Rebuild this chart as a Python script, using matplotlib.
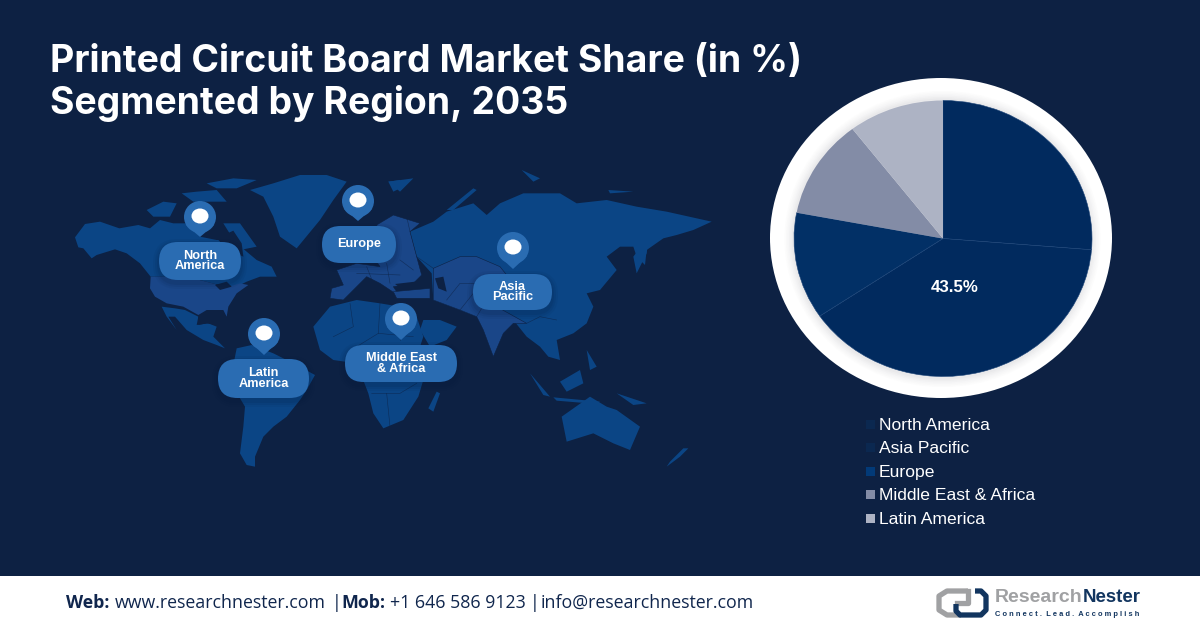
import matplotlib
matplotlib.use('Agg')
import matplotlib.pyplot as plt
from matplotlib.patches import Polygon, Ellipse, FancyBboxPatch, Rectangle, Circle

# chart data
regions = ['North America', 'Asia Pacific', 'Europe', 'Middle East & Africa', 'Latin America']
shares = [26.3, 39.2, 12.5, 11.6, 10.4]
slice_colors = ['#012a5e', '#012a5e', '#023066', '#838ca6', '#adb3c4']
swatch_colors = ['#0b2850', '#0b2850', '#023a78', '#838ca6', '#adb3c4']
callout = '43.5%'
title_lines = ['Printed Circuit Board Market Share (in %)', 'Segmented by Region, 2035']
footer_bits = [('Web:', True, 66), ('www.researchnester.com', False, 115), ('|', False, 332),
               ('Mob:', True, 341), ('+1 646 586 9123', False, 390), ('|', False, 530),
               ('info@researchnester.com', False, 541)]

BG = '#0d2143'
LAND = '#0b4585'
LAND2 = '#1a4688'
PIN = '#2a6cb2'

# pill and pin layout: label, pill x0, x1, y0, y1, pin x, pin y, pin tip y
callouts = [('North\nAmerica', 159, 241, 242, 280, 200, 217, 237),
            ('Europe', 322, 396, 226, 263, 358, 201, 221),
            ('Latin\nAmerica', 218, 309, 359, 398, 264, 334, 355),
            ('Middle East\n& Africa', 345, 457, 345, 382, 401, 319, 340),
            ('Asia\nPacific', 473, 552, 274, 310, 513, 248, 269)]

west_land = [
    [(45,232),(75,192),(120,185),(178,205),(235,195),(270,205),(300,180),(340,190),(380,190),(420,230),(470,240),(500,240),(530,250),(560,275),(590,300),(635,320),(650,350),(600,350),(560,365),(530,380),(465,372),(380,350),(272,350),(240,310),(200,280),(165,268),(110,285),(95,295),(70,265),(55,262)],
    [(305,440),(345,445),(375,450),(415,470),(410,495),(445,490),(470,500),(460,530),(495,565),(470,555),(430,540),(380,510),(345,470),(325,470),(350,510),(320,470)],
    [(530,565),(575,555),(640,580),(700,610),(765,645),(740,690),(720,720),(680,770),(640,800),(610,830),(585,890),(585,920),(560,915),(540,880),(550,800),(555,740),(525,690),(515,640)],
    [(570,90),(640,70),(720,45),(800,45),(860,65),(820,120),(780,180),(710,265),(660,230),(640,170),(610,110)],
    [(440,70),(520,55),(590,60),(530,85),(470,85)],
    [(260,150),(310,125),(350,130),(330,170),(280,170)],
    [(365,100),(410,95),(470,90),(500,125),(450,125),(400,125)],
    [(490,190),(540,190),(590,260),(540,270)],
    [(985,65),(1020,60),(1020,85),(1000,95)],
]
west_usa = [[(272,350),(380,350),(465,372),(490,385),(540,370),(565,375),(530,400),(505,440),(500,470),(490,450),(440,450),(415,465),(370,440),(320,430),(285,410),(270,385)]]
west_dark = [[(470,235),(520,212),(545,250),(550,290),(505,270)],
             [(465,375),(500,365),(515,380),(480,390)],
             [(415,470),(445,452),(490,455),(500,475),(470,495),(440,490),(415,495)]]
east_land = [
    [(330,215),(400,185),(440,155),(520,130),(560,165),(600,130),(670,100),(780,100),(830,130),(920,120),(1010,140),(1100,155),(1235,185),(1180,210),(1130,225),(1090,235),(1040,270),(1035,315),(1010,290),(1000,260),(960,260),(920,290),(950,330),(900,390),(860,400),(880,440),(860,490),(820,520),(770,540),(780,600),(745,590),(720,560),(680,530),(640,480),(600,470),(530,470),(480,450),(400,420),(395,340),(350,290)],
    [(40,500),(90,440),(170,420),(240,430),(300,440),(350,470),(370,530),(360,560),(420,600),(370,660),(355,710),(310,780),(250,805),(220,760),(205,700),(170,610),(100,600),(60,570)],
    [(370,480),(420,480),(470,500),(440,540),(390,560),(360,510)],
    [(410,695),(420,700),(400,755),(385,745)],
    [(785,770),(870,710),(920,740),(950,750),(1020,800),(990,870),(940,850),(880,820),(800,845)],
    [(1165,865),(1140,890),(1100,920),(1110,905),(1150,865)],
    [(1000,290),(1030,250),(1045,240),(1040,280),(1010,340)],
    [(690,640),(750,710),(730,705)],
    [(760,712),(900,725),(890,732),(770,722)],
    [(780,665),(840,630),(850,670),(800,695)],
    [(950,700),(1040,730),(1000,735)],
    [(860,570),(890,620),(870,630)],
    [(440,150),(520,85),(530,90),(460,150)],
    [(265,65),(340,55),(300,95)],
    [(665,30),(720,55),(700,65)],
    [(925,90),(1000,95),(930,100)],
]
east_lighter = [
    [(110,330),(170,310),(240,320),(220,290),(250,240),(230,195),(280,165),(360,190),(330,215),(350,290),(365,345),(340,370),(280,380),(300,410),(240,370),(200,350),(170,380),(130,420),(90,415),(95,385),(130,375)],
    [(280,395),(390,385),(390,415),(290,415)],
    [(400,325),(480,290),(530,290),(600,320),(640,370),(590,440),(680,490),(640,490),(610,520),(580,590),(550,510),(530,470),(480,450),(400,420)],
]
east_dark = [[(405,355),(430,350),(440,395),(415,385)],
             [(285,372),(345,365),(375,380),(310,390)]]
east_borders = [
    [(150,430),(160,500),(100,530)], [(240,430),(235,520),(170,560)], [(300,440),(300,540)],
    [(235,520),(340,530)], [(215,700),(300,700),(350,670)], [(260,700),(270,800)],
    [(200,320),(220,370)], [(260,310),(270,370)], [(300,300),(340,330)], [(170,340),(300,345)],
    [(440,420),(480,370),(560,370)], [(480,450),(520,400)], [(530,470),(560,420)],
    [(330,215),(320,170)], [(350,290),(400,325)], [(680,490),(720,470),(770,480)],
]


def west(pts):
    return [(60 + x / 3, 160 + y / 3) for x, y in pts]


def east(pts):
    return [(300 + x / 3, 160 + y / 3) for x, y in pts]


fig = plt.figure(figsize=(12, 6.28), dpi=100, facecolor=BG)
ax = fig.add_axes([0, 0, 1, 1])
ax.set_xlim(0, 1200)
ax.set_ylim(628, 0)
ax.axis('off')

# map
for p in west_land:
    ax.add_patch(Polygon(west(p), closed=True, fc=LAND, ec='none', zorder=1))
for p in west_usa:
    ax.add_patch(Polygon(west(p), closed=True, fc=LAND2, ec='none', zorder=2))
for p in west_dark:
    ax.add_patch(Polygon(west(p), closed=True, fc=BG, ec='none', zorder=3))
for p in east_land:
    ax.add_patch(Polygon(east(p), closed=True, fc=LAND, ec='none', zorder=1))
for p in east_lighter:
    ax.add_patch(Polygon(east(p), closed=True, fc=LAND2, ec=BG, lw=0.4, zorder=2))
for p in east_dark:
    ax.add_patch(Polygon(east(p), closed=True, fc=BG, ec='none', zorder=3))
for p in east_borders:
    xs, ys = zip(*east(p))
    ax.plot(xs, ys, color=BG, lw=0.4, alpha=0.7, zorder=3)

# pins and pills
for label, x0, x1, y0, y1, px, py, tip in callouts:
    r = (y1 - y0) / 2
    for grow, alpha in [(6, 0.06), (4, 0.08), (2, 0.1)]:
        ax.add_patch(FancyBboxPatch((x0 - grow, y0 + 3 - grow), x1 - x0 + 2 * grow, y1 - y0 + 2 * grow,
                                    boxstyle='round,pad=0,rounding_size=%f' % (r + grow),
                                    fc='#081a38', ec='none', alpha=alpha, zorder=4))
    ax.add_patch(FancyBboxPatch((x0, y0), x1 - x0, y1 - y0, boxstyle='round,pad=0,rounding_size=%f' % r,
                                fc=PIN, ec='none', zorder=5))
    ax.add_patch(Circle((px, py), 16, fc=PIN, ec='none', zorder=5))
    ax.add_patch(Polygon([(px - 14, py + 8), (px + 14, py + 8), (px, tip)], closed=True, fc=PIN, ec='none', zorder=5))
    ax.add_patch(Ellipse((px, py - 1), 17, 15, fc='white', ec='none', zorder=6))
    ax.text((x0 + x1) / 2, (y0 + y1) / 2, label, color='white', fontsize=9.2, family='Liberation Sans',
            fontweight='bold', ha='center', va='center', linespacing=0.85, zorder=7)

# title
for line, y in zip(title_lines, [62, 104]):
    ax.text(50, y, line, color='white', fontsize=26.9, family='Inter', fontweight='bold', ha='left', va='center')

# pie ring with a soft inner shadow
ax.add_patch(Ellipse((941, 238), 342, 320, fc='white', ec='none', zorder=1))
ring_shades = ['#fcfcfc', '#f9f9f9', '#f6f6f7', '#f2f2f3', '#eeeeef', '#e9e9eb']
for i, shade in enumerate(ring_shades):
    ax.add_patch(Ellipse((942.5, 239), 316 - 3 * i, 296 - 3 * i, fc=shade, ec='none', zorder=1))

pie_ax = fig.add_axes([(943 - 149) / 1200, 1 - (238.5 + 138) / 628, 298 / 1200, 276 / 628])
wedges, _ = pie_ax.pie(shares, colors=slice_colors, startangle=90, counterclock=False, radius=1)
for w in wedges[:3]:
    w.set_edgecolor('#1c4478')
    w.set_linewidth(0.4)
pie_ax.set_aspect('auto')
pie_ax.set_xlim(-1, 1)
pie_ax.set_ylim(-1, 1)
pie_ax.text(955, 288, callout, transform=ax.transData, color='white', fontsize=12.2, family='Liberation Sans',
            fontweight='bold', ha='center', va='center')

# legend
for i, name in enumerate(regions):
    y = 424 + i * 23.5
    ax.add_patch(Rectangle((866, y - 4.5), 9, 9, fc=swatch_colors[i], ec='none'))
    ax.text(879, y + 1, name, color='white', fontsize=12.6, family='Liberation Sans', ha='left', va='center')

# footer
ax.add_patch(Rectangle((0, 576), 1200, 52, fc='white', ec='none', zorder=1))
for text, bold, x in footer_bits:
    ax.text(x, 603, text, color='#10264d', fontsize=12.8, family='Open Sans',
            fontweight='bold' if bold else 'normal', ha='left', va='center', zorder=2)

# logo
ax.plot([968, 947, 939, 939, 947, 961], [591, 591, 596, 610, 615, 615], color='#a0a1a3', lw=3.8,
        solid_joinstyle='round', solid_capstyle='butt', zorder=2)
ax.plot([968, 968, 957], [591, 603, 603], color='#a0a1a3', lw=3.8, solid_joinstyle='round', zorder=2)
ax.plot([975, 981, 986, 986, 981, 960, 956, 956], [591, 591, 596, 610, 615, 615, 611, 604], color='#12355f', lw=3.8,
        solid_joinstyle='round', solid_capstyle='butt', zorder=2)
ax.text(995, 598, 'Research', color='#a0a1a3', fontsize=14.0, family='Liberation Sans',
        fontweight='bold', ha='left', va='center', zorder=2)
ax.text(1083, 598, 'Nester', color='#12355f', fontsize=13.4, family='Liberation Sans',
        fontweight='bold', ha='left', va='center', zorder=2)
ax.text(995, 614, 'C o n n e c t .  L e a d .  A c c o m p l i s h', color='#12355f', fontsize=5.4, family='Liberation Sans',
        fontweight='bold', ha='left', va='center', zorder=2)

fig.savefig('out.png', dpi=100, facecolor=BG)
